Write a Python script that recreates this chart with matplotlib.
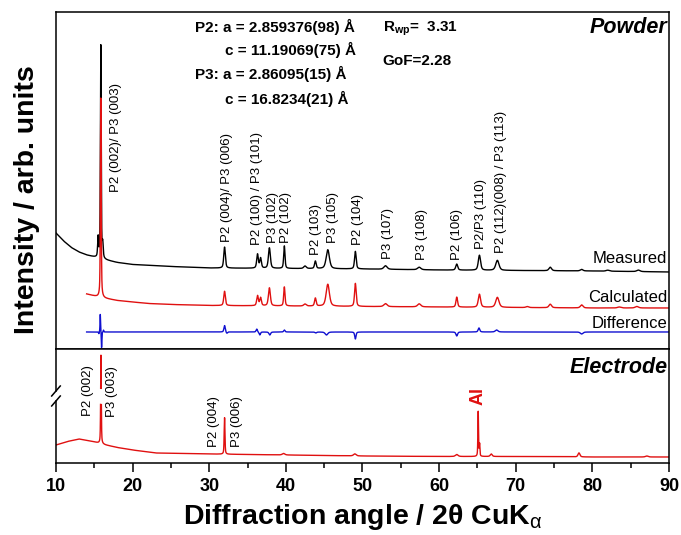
import numpy as np
import matplotlib.pyplot as plt

plt.rcParams["font.family"] = ["Liberation Sans", "DejaVu Sans"]
plt.rcParams["mathtext.fontset"] = "custom"
plt.rcParams["mathtext.rm"] = "Liberation Sans"
plt.rcParams["mathtext.it"] = "Liberation Sans:italic"
plt.rcParams["mathtext.bf"] = "Liberation Sans:bold"

# ---- powder panel (intensity in arb. units, offset traces) ----
# measured pattern: background anchors and peaks (2theta, height, fwhm)
MEAS_BG_X = [10, 11, 12, 13, 14, 15, 16.5, 18, 20, 25, 30, 40, 50, 60, 70, 80, 90]
MEAS_BG_Y = [116, 108, 101.5, 97, 94, 92, 89, 86.5, 84.5, 82.5, 81, 80.5, 80, 79, 78.5, 78, 77]
MEAS_PEAKS = [
    (15.50, 20, 0.15), (15.85, 213, 0.12), (16.10, 14, 0.15),
    (32.0, 21, 0.25), (36.3, 14, 0.25), (36.7, 10, 0.25), (37.85, 20.5, 0.3),
    (39.8, 22.5, 0.2), (42.5, 2.5, 0.4), (43.85, 7.5, 0.25), (45.47, 19, 0.5),
    (49.07, 17.5, 0.25), (53.0, 3.5, 0.5), (57.4, 2.5, 0.5), (62.3, 6, 0.3),
    (65.26, 15, 0.35), (67.6, 10, 0.5), (74.5, 3.5, 0.4), (78.6, 1.5, 0.4),
    (82.0, 1, 0.5), (86.0, 1.5, 0.5),
]

# calculated (Rietveld) pattern
CALC_BG_X = [14, 15, 15.5, 16.5, 18, 20, 22, 25, 30, 40, 50, 60, 70, 80, 90]
CALC_BG_Y = [55, 53, 52, 50.5, 48.5, 47, 45.5, 44.5, 43.5, 43, 42.5, 42, 41.5, 41, 41]
CALC_PEAKS = [
    (15.85, 199.5, 0.12), (32.0, 14.3, 0.25), (36.3, 10, 0.25), (36.7, 8, 0.25),
    (37.85, 18, 0.3), (39.8, 19, 0.2), (42.5, 2, 0.4), (43.85, 8, 0.25),
    (45.47, 22, 0.5), (49.07, 23, 0.25), (53.0, 3, 0.5), (57.4, 3, 0.5),
    (62.3, 10, 0.25), (65.26, 13, 0.35), (67.6, 10, 0.5), (71.5, 1, 0.4),
    (74.5, 3.5, 0.4), (78.6, 3, 0.4), (83.5, 1, 0.5), (85.8, 1.5, 0.5),
]

# difference curve (baseline + signed features)
DIFF_START = 14.0
DIFF_BASE = 17
DIFF_PEAKS = [
    (15.6, -2, 0.1), (15.78, 18, 0.08), (15.95, -16, 0.08), (16.2, 2, 0.1),
    (32.0, 6.5, 0.2), (32.3, -1.5, 0.2), (36.2, 3, 0.2), (36.6, -3, 0.2),
    (37.9, -3, 0.25), (39.8, 2, 0.2), (43.9, -1, 0.25), (45.3, -3, 0.4),
    (49.07, -7, 0.2), (62.3, -4, 0.25), (65.2, 4, 0.25), (67.5, 2, 0.4),
    (78.6, -2, 0.4),
]

# ---- electrode panel ----
ELEC_BG_X = [10, 11.5, 13, 14.5, 15.3, 16.5, 18, 20, 23, 30, 40, 50, 60, 70, 80, 90]
ELEC_BG_Y = [18, 21.5, 24, 22, 20.5, 18, 15.5, 13, 10, 9, 8, 7, 6.5, 6.5, 6, 6]
ELEC_PEAKS = [
    (15.87, 88.5, 0.1), (32.0, 36.5, 0.12), (39.7, 1.5, 0.4), (49.0, 2, 0.4),
    (62.3, 2, 0.4), (65.1, 44.8, 0.1), (65.28, 12, 0.1), (66.8, 2.5, 0.3),
    (78.25, 4, 0.3), (87.1, 1, 0.4),
]
BREAK_LO, BREAK_HI = 62, 72

POWDER_LABELS = [
    (17.77, 157, "P2 (002)/ P3 (003)"),
    (32.28, 107.3, "P2 (004)/ P3 (006)"),
    (36.19, 104, "P2 (100) / P3 (101)"),
    (38.28, 106.3, "P3 (102)"),
    (40.02, 106.3, "P2 (102)"),
    (43.93, 94, "P2 (103)"),
    (46.11, 106.3, "P3 (105)"),
    (49.45, 104, "P2 (104)"),
    (53.37, 89.7, "P3 (107)"),
    (57.8, 89, "P3 (108)"),
    (62.37, 89, "P2 (106)"),
    (65.43, 99.7, "P2/P3 (110)"),
    (68.07, 96.3, "P2 (112)(008) / P3 (113)"),
]
ELEC_LABELS = [
    (14.22, 47, "P2 (002)"),
    (17.27, 46, "P3 (003)"),
    (30.66, 16, "P2 (004)"),
    (33.66, 16, "P3 (006)"),
]

TWO_THETA = np.arange(10, 90.001, 0.005)


def profile(x, peaks):
    y = np.zeros_like(x)
    for x0, h, w in peaks:
        d = (x - x0) / (w / 2)
        y += h * (0.5 / (1 + d ** 2) + 0.5 * np.exp(-np.log(2) * d ** 2))
    return y


def main():
    fig = plt.figure(figsize=(6.81, 5.35), dpi=100)
    ax1 = fig.add_axes([0.0822, 0.3477, 0.9002, 0.6299])
    ax2 = fig.add_axes([0.0822, 0.1346, 0.9002, 0.2131], sharex=ax1)

    x = TWO_THETA
    meas = np.interp(x, MEAS_BG_X, MEAS_BG_Y) + profile(x, MEAS_PEAKS)
    xc = x[x >= CALC_BG_X[0]]
    calc = np.interp(xc, CALC_BG_X, CALC_BG_Y) + profile(xc, CALC_PEAKS)
    xd = x[x >= DIFF_START]
    diff = DIFF_BASE + profile(xd, DIFF_PEAKS)

    ax1.plot(x, meas, color="black", lw=1.0)
    ax1.plot(xc, calc, color="#e01010", lw=1.0)
    ax1.plot(xd, diff, color="#1010d0", lw=1.0)
    ax1.set_ylim(0, 337)

    for px, py, s in POWDER_LABELS:
        ax1.text(px, py, s, rotation=90, ha="center", va="bottom", fontsize=9.5)

    ax1.text(89.8, 86, "Measured", ha="right", va="baseline", fontsize=12)
    ax1.text(89.8, 46.7, "Calculated", ha="right", va="baseline", fontsize=12)
    ax1.text(89.8, 20.7, "Difference", ha="right", va="baseline", fontsize=12)
    ax1.text(89.8, 316.3, "Powder", ha="right", va="baseline", fontsize=15.5,
             fontweight="bold", style="italic")

    bold = dict(fontsize=11, fontweight="bold", va="baseline")
    ax1.text(28.14, 317.3, "P2: a = 2.859376(98) Å", **bold)
    ax1.text(32.06, 294, "c = 11.19069(75) Å", **bold)
    ax1.text(28.14, 270, "P3: a = 2.86095(15) Å", **bold)
    ax1.text(32.06, 245, "c = 16.8234(21) Å", **bold)
    ax1.text(52.64, 317.3, r"R$_{\mathbf{wp}}$=  3.31", **bold)
    ax1.text(52.64, 284, "GoF=2.28", **bold)

    # electrode pattern with broken y axis on the main peak
    elec = np.interp(x, ELEC_BG_X, ELEC_BG_Y) + profile(x, ELEC_PEAKS)
    elec = np.where((elec > BREAK_LO) & (elec < BREAK_HI), np.nan, elec)
    ax2.plot(x, elec, color="#e01010", lw=1.0)
    ax2.set_ylim(0, 114)

    for px, py, s in ELEC_LABELS:
        ax2.text(px, py, s, rotation=90, ha="center", va="bottom", fontsize=9.5)
    ax2.text(65.11, 58, "Al", rotation=90, ha="center", va="bottom",
             fontsize=13, fontweight="bold", color="#e01010")
    ax2.text(89.8, 90.3, "Electrode", ha="right", va="baseline", fontsize=15.5,
             fontweight="bold", style="italic")

    ax2.spines["left"].set_visible(False)
    tr = ax2.get_yaxis_transform()
    ax2.plot([0, 0], [0, BREAK_LO], transform=tr, color="black", lw=1.1,
             clip_on=False)
    ax2.plot([0, 0], [BREAK_HI, 114], transform=tr, color="black", lw=1.1,
             clip_on=False)
    for yb in (BREAK_LO, BREAK_HI):
        ax2.plot([-0.007, 0.007], [yb - 5, yb + 5], transform=tr,
                 color="black", lw=1.1, clip_on=False)

    for ax in (ax1, ax2):
        for sp in ax.spines.values():
            sp.set_linewidth(1.1)
        ax.set_yticks([])
    ax1.tick_params(axis="x", bottom=False, labelbottom=False)

    ax2.set_xlim(10, 90)
    ax2.set_xticks(np.arange(10, 91, 10))
    ax2.set_xticks(np.arange(15, 90, 10), minor=True)
    ax2.tick_params(axis="x", which="major", direction="out", length=6.5,
                    width=1.1, labelsize=13, pad=4)
    ax2.tick_params(axis="x", which="minor", direction="out", length=3.5,
                    width=1.1)
    for lab in ax2.get_xticklabels():
        lab.set_fontweight("bold")

    ax2.set_xlabel(r"Diffraction angle / 2θ CuK$_\mathrm{\alpha}$",
                   fontsize=20.5, fontweight="bold", labelpad=5)
    fig.text(0.04, 0.626, "Intensity / arb. units", rotation=90,
             ha="center", va="center", fontsize=20.5, fontweight="bold")

    fig.savefig("out.png", dpi=100)


if __name__ == "__main__":
    main()
